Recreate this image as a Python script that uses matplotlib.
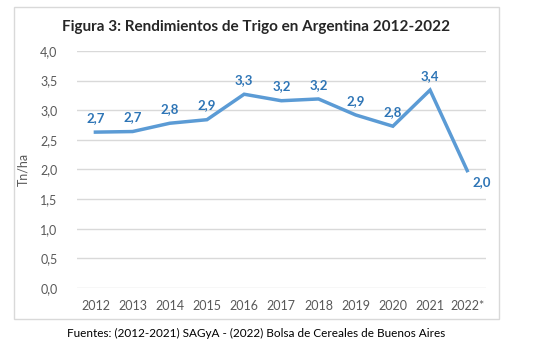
import matplotlib.pyplot as plt
from matplotlib.patches import Rectangle

plt.rcParams['font.family'] = ['Lato', 'DejaVu Sans']

# Data
years = ['2012', '2013', '2014', '2015', '2016', '2017', '2018', '2019', '2020', '2021', '2022*']
yields = [2.63, 2.64, 2.78, 2.84, 3.27, 3.16, 3.19, 2.92, 2.73, 3.34, 1.98]
labels = ['2,7', '2,7', '2,8', '2,9', '3,3', '3,2', '3,2', '2,9', '2,8', '3,4', '2,0']

fig = plt.figure(figsize=(5.41, 3.59), dpi=100)
ax = fig.add_axes([0.142, 0.198, 0.756, 0.660])

x = list(range(len(years)))
ax.plot(x, yields, color='#5B9BD5', linewidth=2.5, solid_joinstyle='miter')

# Data labels
for i, (v, t) in enumerate(zip(yields, labels)):
    if i == len(yields) - 1:
        ax.annotate(t, (i, v), xytext=(4, -4), textcoords='offset points',
                    ha='left', va='top', color='#2E75B6', fontsize=9.5, fontweight='bold')
    else:
        ax.annotate(t, (i, v), xytext=(0, 6), textcoords='offset points',
                    ha='center', va='bottom', color='#2E75B6', fontsize=9.5, fontweight='bold')

ax.set_ylim(0, 4)
ax.set_xlim(-0.5, len(years) - 0.5)
ax.set_yticks([0, 0.5, 1, 1.5, 2, 2.5, 3, 3.5, 4])
ax.set_yticklabels(['0,0', '0,5', '1,0', '1,5', '2,0', '2,5', '3,0', '3,5', '4,0'])
ax.set_xticks(x)
ax.set_xticklabels(years)
ax.tick_params(length=0, labelsize=9, labelcolor='#595959', pad=9)
ax.tick_params(axis='y', pad=14)
ax.grid(axis='y', color='#D9D9D9', linewidth=1)
ax.set_axisbelow(True)
for s in ax.spines.values():
    s.set_visible(False)
ax.set_ylabel('Tn/ha', color='#595959', fontsize=9, labelpad=8)

fig.text(256 / 541, 0.925, 'Figura 3: Rendimientos de Trigo en Argentina 2012-2022',
         ha='center', va='center', fontsize=11, fontweight='bold', color='#262626')

# Chart border
fig.patches.append(Rectangle((14 / 541, 1 - 319 / 359), 485 / 541, 312 / 359,
                             transform=fig.transFigure, fill=False,
                             edgecolor='#D9D9D9', linewidth=1))

fig.text(256 / 541, 1 - 333 / 359,
         'Fuentes: (2012-2021) SAGyA - (2022) Bolsa de Cereales de Buenos Aires',
         ha='center', va='center', fontsize=8.5, color='#000000')

fig.savefig('out.png', dpi=100)
